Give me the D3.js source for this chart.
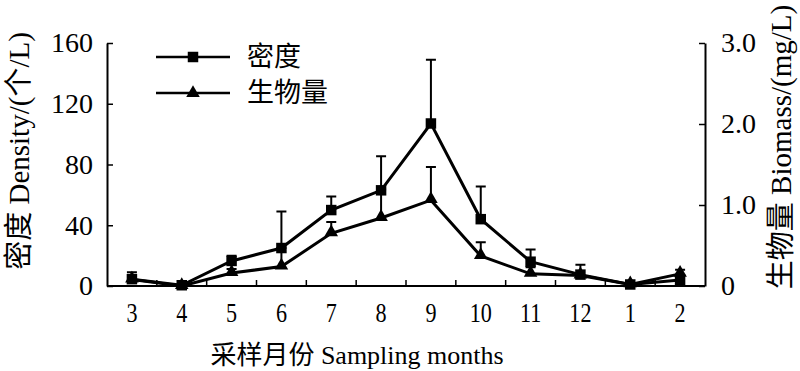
<!DOCTYPE html>
<html lang="zh">
<head>
    <meta charset="UTF-8">
    <title>密度与生物量</title>
    <script src="https://d3js.org/d3.v7.min.js"></script>
    <style>
        body { margin: 0; background: white; }
        svg { display: block; }
        text { font-family: "Liberation Serif", "Noto Sans CJK SC", serif; fill: #000; }
    </style>
</head>
<body>
    <svg width="800" height="371"></svg>

    <script>
        // 采样月份
        const months = ["3", "4", "5", "6", "7", "8", "9", "10", "11", "12", "1", "2"];
        // 密度 (个/L) と 誤差
        const density = [4.5, 0.5, 16.5, 25, 50, 63, 107, 44, 16, 7.5, 1, 4];
        const densityErr = [4.5, 0, 3.5, 24, 9, 22.5, 42, 21.5, 8, 6.5, 0, 3];
        // 生物量 (mg/L) と 誤差
        const biomass = [0.08, 0, 0.16, 0.24, 0.65, 0.84, 1.06, 0.37, 0.15, 0.13, 0.02, 0.15];
        const biomassErr = [0, 0, 0.05, 0.23, 0.14, 0.35, 0.41, 0.17, 0.08, 0, 0, 0.05];

        const leftTicks = [0, 40, 80, 120, 160];
        const rightTicks = [0, 1, 2, 3];

        const svg = d3.select("svg");
        const m = { left: 107, right: 705, top: 43, bottom: 286 };

        const x = d3.scaleBand().domain(months).range([m.left, m.right]).padding(0);
        const yL = d3.scaleLinear().domain([0, 160]).range([m.bottom, m.top]);
        const yR = d3.scaleLinear().domain([0, 3]).range([m.bottom, m.top]);
        const cx = d => x(d) + x.bandwidth() / 2;

        // 軸
        const gL = svg.append("g").attr("transform", `translate(${m.left},0)`)
            .call(d3.axisLeft(yL).tickValues(leftTicks).tickSizeInner(-6).tickSizeOuter(0).tickPadding(14));
        const gR = svg.append("g").attr("transform", `translate(${m.right},0)`)
            .call(d3.axisRight(yR).tickValues(rightTicks).tickSizeInner(-6).tickSizeOuter(0).tickPadding(16)
                .tickFormat(d => d === 0 ? "0" : d3.format(".1f")(d)));
        const gB = svg.append("g").attr("transform", `translate(0,${m.bottom})`)
            .call(d3.axisBottom(x).tickSize(0).tickPadding(17));
        gB.select(".domain").attr("d", `M${m.left},0H${m.right}`);

        // 区切りの目盛り(内側)
        gB.selectAll("line.sep").data(months.slice(1)).join("line")
            .attr("class", "sep")
            .attr("x1", d => x(d)).attr("x2", d => x(d))
            .attr("y1", 0).attr("y2", -6)
            .attr("stroke", "#000").attr("stroke-width", 1.5);

        [gL, gR, gB].forEach(g => {
            g.selectAll(".domain").attr("stroke", "#000").attr("stroke-width", 2);
            g.selectAll(".tick line").attr("stroke", "#000").attr("stroke-width", 1.5);
            g.selectAll("text").attr("font-size", 28).attr("fill", "#000")
                .style("font-family", "'Liberation Serif', serif");
        });
        // 月のラベルは横に詰める
        gB.selectAll(".tick text").attr("font-size", 27).attr("transform", "scale(0.82,1)");

        // 誤差棒
        function errBars(vals, errs, y) {
            const idx = d3.range(months.length).filter(i => errs[i] > 0);
            svg.append("g").selectAll("path").data(idx).join("path")
                .attr("d", i => {
                    const px = cx(months[i]), y0 = y(vals[i]), y1 = y(vals[i] + errs[i]);
                    return `M${px},${y0}V${y1}M${px - 5},${y1}H${px + 5}`;
                })
                .attr("fill", "none").attr("stroke", "#000").attr("stroke-width", 2);
        }
        errBars(density, densityErr, yL);
        errBars(biomass, biomassErr, yR);

        // 折れ線
        const lineL = d3.line().x((d, i) => cx(months[i])).y(d => yL(d));
        const lineR = d3.line().x((d, i) => cx(months[i])).y(d => yR(d));
        svg.append("path").attr("d", lineL(density))
            .attr("fill", "none").attr("stroke", "#000").attr("stroke-width", 3);
        svg.append("path").attr("d", lineR(biomass))
            .attr("fill", "none").attr("stroke", "#000").attr("stroke-width", 3);

        const sq = d3.symbol(d3.symbolSquare, 110);
        const tri = d3.symbol(d3.symbolTriangle, 80);
        svg.append("g").selectAll("path").data(density).join("path")
            .attr("d", sq).attr("transform", (d, i) => `translate(${cx(months[i])},${yL(d)})`);
        svg.append("g").selectAll("path").data(biomass).join("path")
            .attr("d", tri).attr("transform", (d, i) => `translate(${cx(months[i])},${yR(d) - 1})`);

        // 凡例
        const legend = [{ name: "密度", sym: sq, y: 57 }, { name: "生物量", sym: tri, y: 93 }];
        const lg = svg.append("g").selectAll("g").data(legend).join("g")
            .attr("transform", d => `translate(0,${d.y})`);
        lg.append("line").attr("x1", 156).attr("x2", 230)
            .attr("stroke", "#000").attr("stroke-width", 2.5);
        lg.append("path").attr("d", d => d.sym()).attr("transform", "translate(193,0)");
        lg.append("text").attr("x", 247).attr("dy", "0.35em")
            .attr("font-size", 27).style("font-family", "'Noto Sans CJK SC', sans-serif")
            .text(d => d.name);

        // 軸ラベル
        svg.append("text")
            .attr("transform", "translate(19,151) rotate(-90)")
            .attr("text-anchor", "middle").attr("dy", "0.35em").attr("font-size", 29)
            .text("密度 Density/(个/L)");
        svg.append("text")
            .attr("transform", "translate(781,147) rotate(-90)")
            .attr("text-anchor", "middle").attr("dy", "0.35em").attr("font-size", 29)
            .text("生物量 Biomass/(mg/L)");
        svg.append("text")
            .attr("x", 357).attr("y", 364)
            .attr("text-anchor", "middle").attr("font-size", 26)
            .text("采样月份 Sampling months");
    </script>
</body>
</html>
